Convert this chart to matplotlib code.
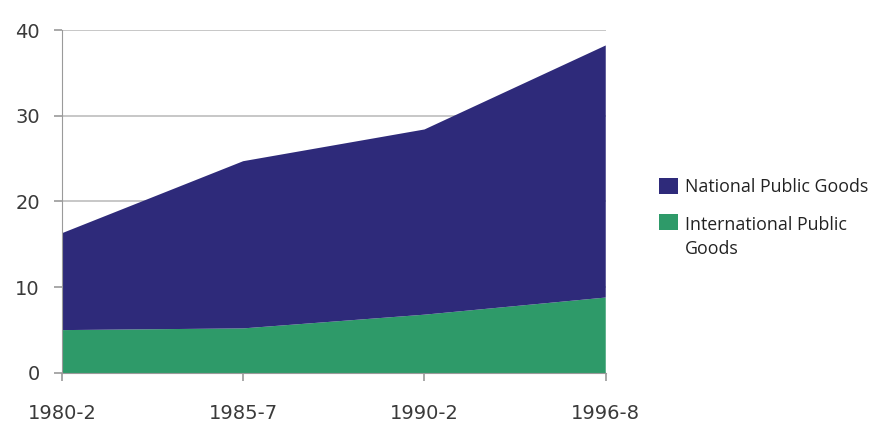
#!/usr/bin/env python3
# -*- coding: utf-8 -*-

import matplotlib
matplotlib.use('Agg')
import matplotlib.pyplot as plt
import numpy as np
from matplotlib.patches import Rectangle

# Periods (three-year averages) and the two stacked series
periods = ["1980-2", "1985-7", "1990-2", "1996-8"]
international_goods = [5.0, 5.2, 6.8, 8.8]
national_goods = [11.3, 19.5, 21.6, 29.4]

series_names = ["National Public Goods", "International Public\nGoods"]
navy = "#2e2a7a"
green = "#2e9a69"

plt.rcParams.update({'font.family': ['DejaVu Sans']})

fig = plt.figure(figsize=(8.77, 4.25), dpi=100)
ax = fig.add_axes([0.0707, 0.1224, 0.620, 0.807])

x = np.arange(len(periods))
ax.stackplot(x, international_goods, national_goods,
             colors=[green, navy], linewidth=0, zorder=2)

ax.set_xlim(0, len(periods) - 1)
ax.set_ylim(0, 40)
ax.set_yticks([0, 10, 20, 30, 40])
ax.set_xticks(x)
ax.set_xticklabels(periods)

# Horizontal grid behind the areas
ax.yaxis.grid(True, color="#bdbdbd", linewidth=1.2, zorder=0)
ax.set_axisbelow(True)

for side in ("top", "right"):
    ax.spines[side].set_visible(False)
ax.spines["left"].set_color("#9a9a9a")
ax.spines["bottom"].set_color("#9a9a9a")
ax.spines["left"].set_zorder(3)

ax.tick_params(axis="both", colors="#9a9a9a", length=6, width=1.2,
               labelcolor="#3a3a3a", labelsize=14)
ax.tick_params(axis="x", pad=16)
ax.tick_params(axis="y", pad=10)

# Legend drawn by hand so the second square sits on the first text line
legend_font = ['Open Sans', 'DejaVu Sans']
fig_h = 425.0
squares = [(navy, 178), (green, 214)]   # top pixel row of each square
text_rows = [189, 227]                   # first text line centre, pixels from top
for (col, top), row, name in zip(squares, text_rows, series_names):
    fig.patches.append(Rectangle((659 / 877, 1 - (top + 16) / fig_h),
                                 19 / 877, 16 / fig_h,
                                 transform=fig.transFigure,
                                 facecolor=col, edgecolor="none"))
    fig.text(685 / 877, 1 - (row - 11) / fig_h, name, fontsize=12.8,
             family=legend_font, color="#222222", va="top", ha="left",
             linespacing=1.4, transform=fig.transFigure)

fig.savefig("out.png", dpi=100)
